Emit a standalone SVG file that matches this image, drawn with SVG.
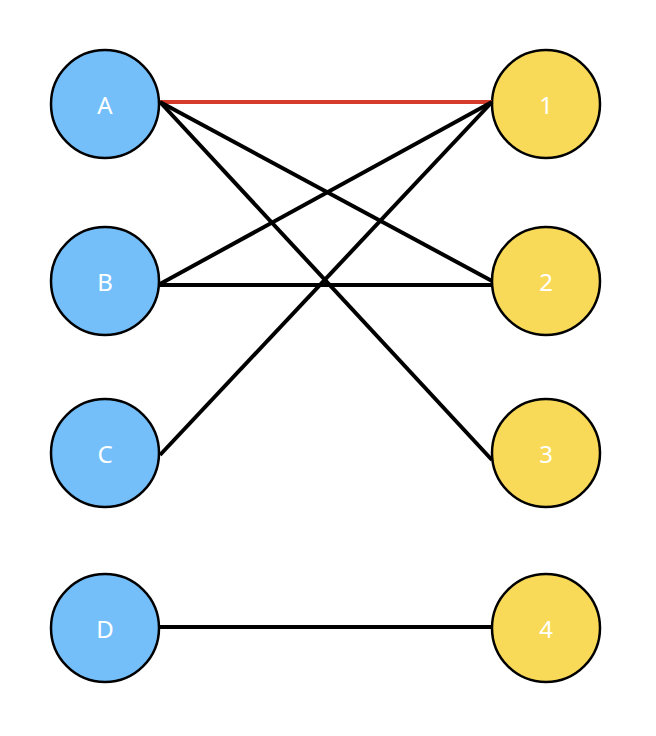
<svg xmlns="http://www.w3.org/2000/svg" width="656" height="736" viewBox="0 0 656 736">
<style>
.l{fill:#74bffa;stroke:#000;stroke-width:2.5}
.r{fill:#f9da58;stroke:#000;stroke-width:2.5}
.t{font-family:"Noto Sans","DejaVu Sans",sans-serif;font-size:24px;fill:#fff;text-anchor:middle;dominant-baseline:central}
.c{stroke:#000;stroke-width:4;fill:none}
</style>
<rect width="656" height="736" fill="#fff"/>
<g id="nA"><circle class="l" cx="105" cy="104" r="54"/><text class="t" x="105" y="104">A</text></g>
<g id="nB"><circle class="l" cx="105" cy="281" r="54"/><text class="t" x="105" y="281">B</text></g>
<g id="nC"><circle class="l" cx="105" cy="453" r="54"/><text class="t" x="105" y="453">C</text></g>
<g id="nD"><circle class="l" cx="105" cy="628" r="54"/><text class="t" x="105" y="628">D</text></g>
<g id="n1"><circle class="r" cx="546" cy="104" r="54"/><text class="t" x="546" y="104">1</text></g>
<g id="n2"><circle class="r" cx="546" cy="281" r="54"/><text class="t" x="546" y="281">2</text></g>
<g id="n3"><circle class="r" cx="546" cy="453" r="54"/><text class="t" x="546" y="453">3</text></g>
<g id="n4"><circle class="r" cx="546" cy="628" r="54"/><text class="t" x="546" y="628">4</text></g>
<g id="connectors">
<line class="c" x1="160" y1="102" x2="492" y2="102" stroke="#d63b2c" style="stroke:#d63b2c"/>
<line class="c" x1="160" y1="102" x2="492" y2="281"/>
<line class="c" x1="160" y1="102" x2="492" y2="460"/>
<line class="c" x1="160" y1="284" x2="492" y2="102"/>
<line class="c" x1="160" y1="285" x2="492" y2="285"/>
<line class="c" x1="160" y1="455" x2="492" y2="102"/>
<line class="c" x1="158" y1="627" x2="492" y2="627"/>
</g>
</svg>
